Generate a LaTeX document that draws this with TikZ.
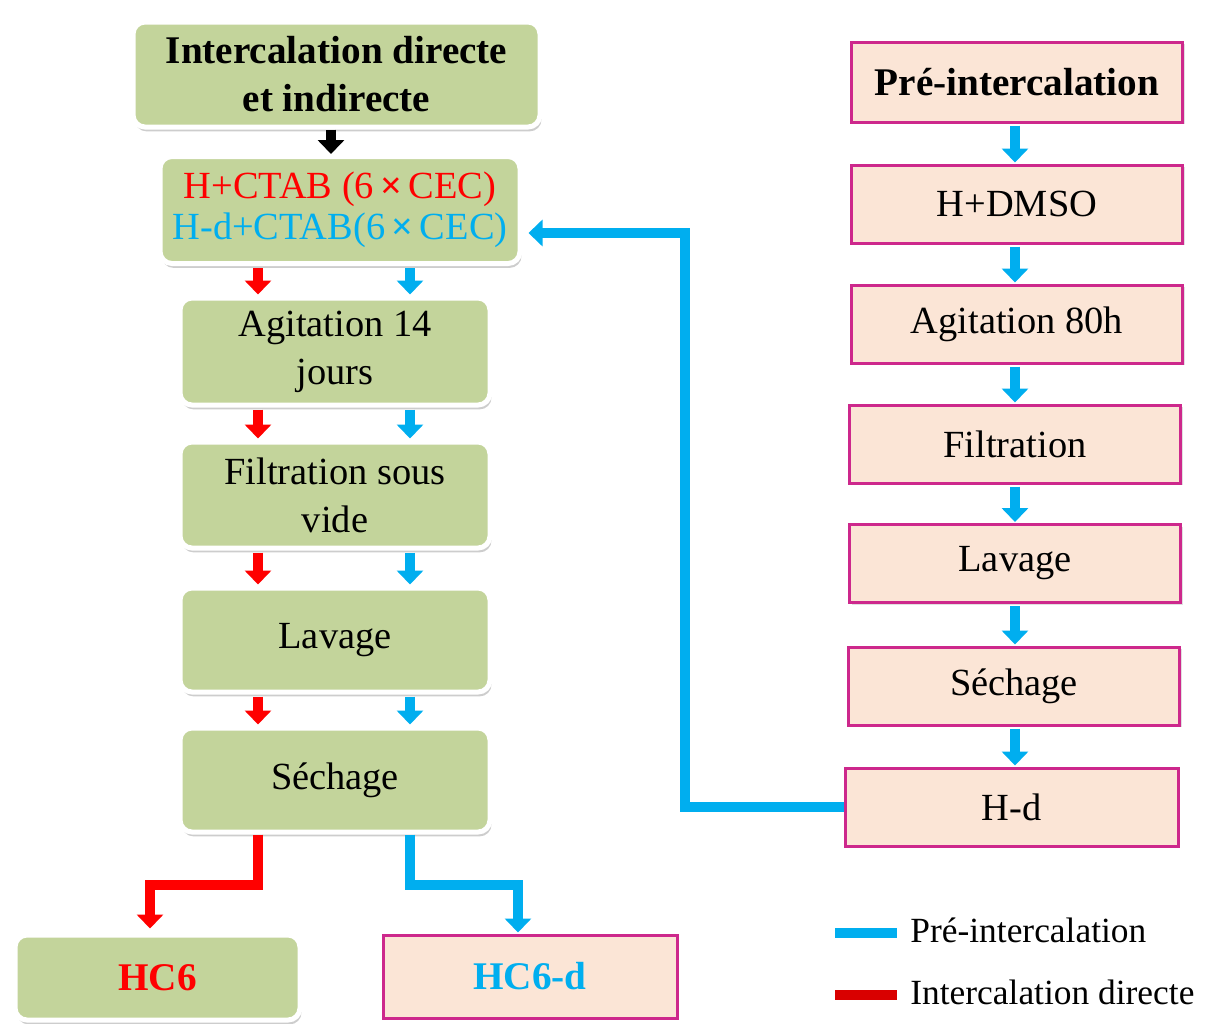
\documentclass[tikz,border=0pt]{standalone}
\usepackage{fontspec}
\setmainfont{Liberation Serif}
\usetikzlibrary{arrows.meta,shadows,calc}
\definecolor{gfill}{RGB}{195,212,155}
\definecolor{pfill}{RGB}{251,229,214}
\definecolor{pborder}{RGB}{205,40,140}
\definecolor{bluec}{RGB}{0,174,239}
\definecolor{redc}{RGB}{255,0,0}
\tikzset{
  txt/.style={font=\fontsize{19.2}{24}\selectfont, align=center, inner sep=0pt, text=black},
  bftxt/.style={font=\fontsize{19.6}{24}\selectfont\bfseries},
  gbox/.style={txt, rectangle, rounded corners=6pt, fill=gfill, draw=white, line width=2.5pt,
    drop shadow={shadow xshift=0.8pt, shadow yshift=-2.2pt, opacity=0.28, fill=black!70}},
  pbox/.style={txt, rectangle, fill=pfill, draw=pborder, line width=1.5pt,
    drop shadow={shadow xshift=1.2pt, shadow yshift=-1.2pt, opacity=0.2, fill=black!60}},
  flow/.style={line width=5pt, -{Triangle[width=13pt,length=7pt]}},
  rflow/.style={flow, draw=redc},
  bflow/.style={flow, draw=bluec},
  kflow/.style={flow, draw=black},
}
\begin{document}
\begin{tikzpicture}[x=0.5pt,y=-0.5pt]
\useasboundingbox (0,0) rectangle (1207,1024);
% left column
\node[gbox, bftxt, minimum width=203.5pt, minimum height=52.5pt] (top) at (336.5,74.5) {Intercalation directe\\et indirecte};
\node[gbox, minimum width=180pt, minimum height=53.5pt, font=\fontsize{19.2}{20.5}\selectfont] (ctab) at (340,210) {\textcolor{redc}{H+CTAB (6\,{\bfseries ×}\,CEC)}\\\textcolor{bluec}{H-d+CTAB(6\,{\bfseries ×}\,CEC)}};
\node[gbox, minimum width=155pt, minimum height=53.5pt] (agit) at (335,351.5) {Agitation 14\\jours};
\node[gbox, minimum width=155pt, minimum height=53pt] (filt) at (335,495) {Filtration sous\\vide};
\node[gbox, minimum width=155pt, minimum height=52pt] (lav) at (335,640) {Lavage};
\node[gbox, minimum width=155pt, minimum height=52pt] (sech) at (335,780) {Séchage};
\node[gbox, bftxt, minimum width=142.5pt, minimum height=42.5pt, text=redc] (hc6) at (157.5,977.5) {HC6};
\node[pbox, bftxt, minimum width=147pt, minimum height=41.5pt, text=bluec] (hc6d) at (530,976.5) {HC6-d};
% right column
\node[pbox, bftxt, minimum width=165.5pt, minimum height=40pt] (pre) at (1017,82) {Pré-intercalation};
\node[pbox, minimum width=165.5pt, minimum height=39pt] (dmso) at (1017,204) {H+DMSO};
\node[pbox, minimum width=165.5pt, minimum height=39pt] (ag80) at (1017,324) {Agitation 80h};
\node[pbox, minimum width=165.5pt, minimum height=39pt] (filr) at (1015,444) {Filtration};
\node[pbox, minimum width=165.5pt, minimum height=39pt] (lavr) at (1015,563.5) {Lavage};
\node[pbox, minimum width=165.5pt, minimum height=39pt] (sechr) at (1014,686) {Séchage};
\node[pbox, minimum width=166.5pt, minimum height=39pt] (hd) at (1011.5,807) {H-d};
% left arrows
\draw[kflow] (top.south -| 331,0) -- (ctab.north -| 331,0);
\foreach \a/\b in {ctab/agit, agit/filt, filt/lav, lav/sech}{
  \draw[rflow] ($(\a.south -| 258,0)+(0,2)$) -- ($(\b.north -| 258,0)+(0,-1)$);
  \draw[bflow] ($(\a.south -| 410,0)+(0,2)$) -- ($(\b.north -| 410,0)+(0,-1)$);
}
% right arrows
\foreach \a/\b in {pre/dmso, dmso/ag80, ag80/filr, filr/lavr, lavr/sechr, sechr/hd}{
  \draw[bflow] ($(\a.south -| 1015,0)+(0,2)$) -- ($(\b.north -| 1015,0)+(0,-1)$);
}
% feedback
\coordinate (turn) at (685,233);
\draw[line width=5pt, draw=bluec, -{Triangle[width=13pt,length=7pt]}] (hd.west) -| (turn) -- ($(ctab.east |- turn)+(6,0)$);
% bottom branches
\coordinate (rb) at (258,885);
\coordinate (bb) at (410,885);
\draw[rflow] (sech.south -| rb) -- (rb) -| ($(hc6.north -| 150,0)+(0,-4)$);
\draw[bflow] (sech.south -| bb) -- (bb) -| ($(hc6d.north -| 518,0)+(0,-1)$);
% legend
\coordinate (l1a) at (835,933); \coordinate (l1b) at (897,933);
\coordinate (l2a) at (835,995); \coordinate (l2b) at (897,995);
\draw[line width=5pt, bluec] (l1a) -- (l1b);
\draw[line width=5pt, redc!85!black] (l2a) -- (l2b);
\node[txt, anchor=west, font=\fontsize{17.7}{20}\selectfont] (leg1) at (910,930) {Pré-intercalation};
\node[txt, anchor=west, font=\fontsize{17.7}{20}\selectfont] (leg2) at (910,992) {Intercalation directe};
\end{tikzpicture}
\end{document}
